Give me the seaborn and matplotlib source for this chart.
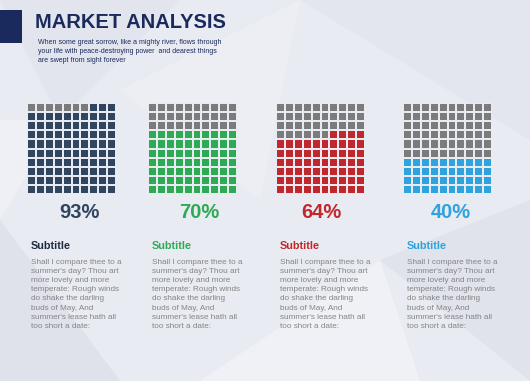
import numpy as np
import pandas as pd
import seaborn as sns
import matplotlib
matplotlib.use("Agg")
from matplotlib import pyplot as plt
from matplotlib.colors import ListedColormap
from matplotlib.patches import Polygon, Rectangle

# data
values = [93, 70, 64, 40]
fill_colors = ["#2f4560", "#2eaa55", "#c0282d", "#2ea3de"]
subtitle_colors = ["#1f2a44", "#2eaa55", "#c0282d", "#2ea3de"]
subtitles = ["Subtitle", "Subtitle", "Subtitle", "Subtitle"]
body = ("Shall I compare thee to a\nsummer's day? Thou art\nmore lovely and more\n"
        "temperate: Rough winds\ndo shake the darling\nbuds of May, And\n"
        "summer's lease hath all\ntoo short a date:")
title = "MARKET ANALYSIS"
intro = ("When some great sorrow, like a mighty river, flows through\n"
         "your life with peace-destroying power  and dearest things\n"
         "are swept from sight forever")
grey = "#7b7b7b"
bg = "#e9ebf2"

sns.set_style("white")
plt.rcParams['font.family'] = ['Liberation Sans', 'DejaVu Sans']

W, H = 530, 381
fig = plt.figure(figsize=(5.3, 3.81), dpi=100)
fig.patch.set_facecolor(bg)

# faint low-poly background
def px(pts):
    return [(x / W, 1 - y / H) for x, y in pts]

polys = [
    ([(0, 0), (180, 0), (60, 120)], "#e2e4ee"),
    ([(300, 0), (530, 0), (530, 140)], "#e4e6ef"),
    ([(0, 220), (120, 381), (0, 381)], "#dfe1eb"),
    ([(200, 381), (380, 260), (420, 381)], "#f0f1f6"),
    ([(380, 260), (530, 200), (530, 381)], "#e1e3ec"),
    ([(120, 90), (300, 0), (260, 200)], "#eceef4"),
    ([(0, 120), (60, 120), (0, 220)], "#eef0f5"),
]
for pts, c in polys:
    fig.add_artist(Polygon(px(pts), closed=True, transform=fig.transFigure,
                           facecolor=c, edgecolor="none", zorder=0))

# header
fig.add_artist(Rectangle((0, 1 - 43 / H), 22 / W, 33 / H, transform=fig.transFigure,
                         facecolor="#1a2a5c", edgecolor="none"))
fig.text(35 / W, 1 - 22 / H, title, fontsize=14.5, fontweight="bold", color="#1a2a5c",
         va="center", ha="left")
fig.text(38 / W, 1 - 39 / H, intro, fontsize=5.0, color="#1a2a5c", va="top", ha="left",
         linespacing=1.45)

lefts = [27, 148, 276, 403]
pct_x = [79, 199, 321, 451]
gw, gh = 89, 91
for i, v in enumerate(values):
    full = v // 10
    part = v % 10
    grid = np.zeros((10, 10))
    for r in range(10):
        b = 9 - r
        for c in range(10):
            if b < full or (b == full and c >= 10 - part):
                grid[r, c] = 1
    df = pd.DataFrame(grid)
    ax = fig.add_axes([lefts[i] / W, 1 - (103 + gh) / H, gw / W, gh / H])
    sns.heatmap(df, ax=ax, cmap=ListedColormap([grey, fill_colors[i]]), vmin=0, vmax=1,
                cbar=False, linewidths=1.1, linecolor=bg, xticklabels=False, yticklabels=False)
    ax.set_facecolor(bg)
    fig.text(pct_x[i] / W, 1 - 212 / H, f"{v}%", fontsize=14.5, fontweight="bold",
             color=fill_colors[i], ha="center", va="center")
    fig.text((lefts[i] + 4) / W, 1 - 246 / H, subtitles[i], fontsize=7.8, fontweight="bold",
             color=subtitle_colors[i], ha="left", va="center")
    fig.text((lefts[i] + 4) / W, 1 - 259 / H, body, fontsize=5.9, color="#858585",
             ha="left", va="top", linespacing=1.42)

fig.savefig("out.png", dpi=100, facecolor=bg)
